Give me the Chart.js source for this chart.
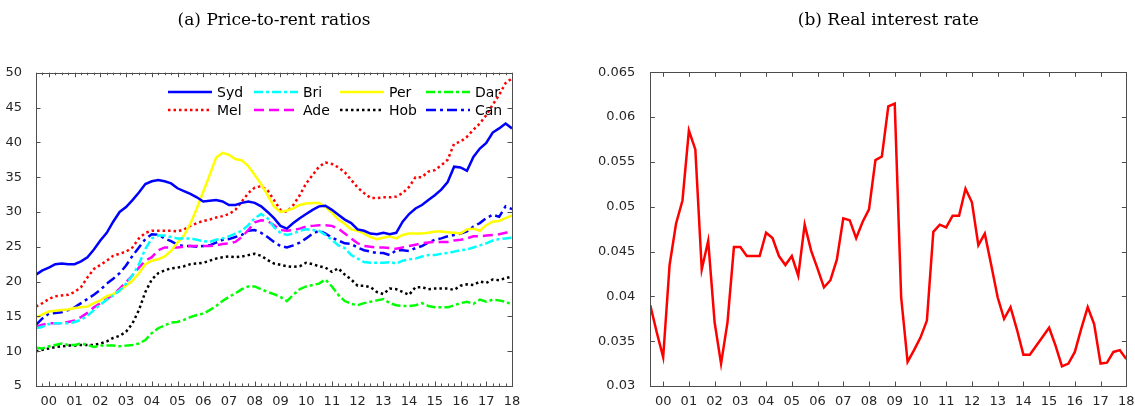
<!DOCTYPE html>
<html>
<head>
<meta charset="utf-8">
<script src="https://cdn.jsdelivr.net/npm/chart.js@4.4.1/dist/chart.umd.min.js"></script>
<style>
  html, body { margin: 0; padding: 0; background: #fff; }
  #wrap { position: relative; width: 1135px; height: 406px; overflow: hidden; }
  .panel { position: absolute; top: 0; height: 406px; }
  #p1 { left: 0; width: 560px; }
  #p2 { left: 560px; width: 575px; }
</style>
</head>
<body>
<div id="wrap">
  <div class="panel" id="p1"><canvas id="ratios"></canvas></div>
  <div class="panel" id="p2"><canvas id="rate"></canvas></div>
</div>
<script>
// quarterly observations, 1999Q3 .. 2018Q1
const QUARTERS = Array.from({length: 75}, (_, i) => 1999.5 + i / 4);
const YEARS = [2000,2001,2002,2003,2004,2005,2006,2007,2008,2009,2010,2011,2012,2013,2014,2015,2016,2017,2018];
const YEAR_LABELS = ['00','01','02','03','04','05','06','07','08','09','10','11','12','13','14','15','16','17','18'];
const RATIO_TICKS = [5,10,15,20,25,30,35,40,45,50];
const RATE_TICKS = [0.03,0.035,0.04,0.045,0.05,0.055,0.06,0.065];

// price-to-rent ratios by city
const syd = [21.0,21.6,22.0,22.5,22.6,22.5,22.5,22.9,23.5,24.6,25.9,27.0,28.6,30.0,30.7,31.7,32.8,34.0,34.4,34.6,34.4,34.1,33.4,33.0,
  32.6,32.1,31.5,31.6,31.7,31.5,31.0,31.0,31.3,31.5,31.3,30.8,30.0,29.1,28.0,27.6,28.4,29.1,29.7,30.3,30.8,30.9,30.3,29.6,
  28.9,28.4,27.5,27.3,26.9,26.8,27.0,26.8,27.0,28.6,29.7,30.5,31.0,31.7,32.4,33.2,34.3,36.5,36.4,35.9,37.9,39.1,39.9,41.4,42.0,42.7,42.0];
const mel = [16.4,16.9,17.5,17.9,18.0,18.1,18.5,19.2,20.6,21.8,22.4,23.0,23.7,24.0,24.3,24.9,26.2,27.0,27.3,27.3,27.3,27.3,27.2,27.5,
  28.0,28.4,28.7,28.9,29.2,29.4,29.7,30.3,31.5,32.7,33.5,33.7,33.1,31.7,30.3,30.0,31.0,32.4,34.1,35.3,36.5,37.1,36.9,36.4,
  35.7,34.6,33.5,32.7,32.0,32.0,32.1,32.1,32.2,32.7,33.6,35.0,35.0,35.8,36.0,36.7,37.5,39.8,40.1,40.8,41.8,42.7,43.9,45.4,46.8,48.5,49.2];
const bri = [13.3,13.5,13.9,14.0,14.0,14.0,14.2,14.5,15.1,15.9,16.7,17.4,18.0,18.7,19.7,20.9,22.5,24.7,26.2,26.6,26.6,26.4,26.2,26.2,
  26.2,26.0,25.8,25.7,26.0,26.2,26.5,26.9,27.3,28.1,29.1,29.7,29.1,27.8,27.0,26.7,26.9,27.3,27.5,27.4,27.3,26.7,26.0,25.2,
  24.8,23.8,23.3,22.8,22.7,22.7,22.7,22.8,22.6,23.0,23.2,23.3,23.6,23.8,23.8,24.0,24.1,24.3,24.5,24.6,24.9,25.2,25.5,25.9,26.1,26.2,26.3];
const ade = [13.5,13.8,14.0,14.0,14.0,14.2,14.4,14.9,15.5,16.3,16.9,17.5,18.1,19.0,19.9,20.9,22.0,23.0,23.5,24.5,24.9,24.9,24.9,25.0,
  25.1,25.1,25.1,25.1,25.2,25.4,25.5,25.7,26.4,27.4,28.5,28.8,28.7,28.1,27.4,27.3,27.4,27.6,27.9,28.0,28.1,28.1,28.0,27.6,
  26.9,26.2,25.5,25.1,25.0,24.9,24.9,24.8,24.7,24.9,25.1,25.3,25.5,25.6,25.7,25.7,25.7,25.9,26.0,26.2,26.5,26.5,26.6,26.7,26.8,27.0,27.3];
const per = [14.8,15.3,15.7,15.8,15.9,16.0,16.2,16.3,16.4,16.9,17.3,17.9,18.2,18.7,19.4,20.1,21.2,22.5,23.0,23.2,23.6,24.4,25.6,26.6,
  28.3,30.5,32.9,35.3,37.8,38.5,38.2,37.6,37.4,36.6,35.3,34.0,32.4,30.8,30.0,30.2,30.5,31.0,31.2,31.3,31.3,30.7,29.9,28.9,
  28.3,27.5,27.3,26.9,26.4,26.1,26.3,26.5,26.2,26.7,26.9,26.9,26.9,27.0,27.2,27.2,27.1,27.0,26.9,27.5,27.6,27.3,28.1,28.6,28.7,29.1,29.5];
const hob = [10.0,10.2,10.4,10.6,10.7,10.8,10.8,10.9,10.9,10.9,11.1,11.4,11.9,12.2,12.8,14.0,15.9,18.5,20.3,21.2,21.6,21.9,22.0,22.2,
  22.5,22.6,22.7,23.0,23.3,23.5,23.6,23.5,23.6,23.8,24.0,23.7,23.1,22.6,22.4,22.2,22.1,22.2,22.7,22.5,22.2,22.0,21.4,21.9,
  21.0,20.3,19.4,19.4,19.2,18.5,18.2,19.0,18.9,18.5,18.1,19.2,19.2,18.9,19.0,19.0,19.0,18.8,19.4,19.6,19.5,20.0,19.8,20.3,20.2,20.5,20.7];
const dar = [10.5,10.4,10.7,10.9,11.1,10.9,10.9,11.1,10.9,10.6,10.8,10.8,10.8,10.7,10.8,10.9,11.1,11.6,12.6,13.3,13.7,14.1,14.2,14.5,
  14.9,15.2,15.4,15.9,16.5,17.2,17.8,18.3,18.9,19.3,19.3,18.9,18.5,18.2,17.8,17.2,18.1,18.9,19.3,19.5,19.7,20.3,19.3,18.1,
  17.2,16.8,16.6,16.9,17.1,17.3,17.5,16.9,16.6,16.5,16.5,16.6,16.9,16.5,16.3,16.3,16.3,16.6,16.9,17.1,16.8,17.4,17.1,17.4,17.3,17.1,16.7];
const can = [13.8,14.7,15.4,15.5,15.6,15.9,16.3,16.9,17.5,18.1,18.8,19.7,20.4,21.2,22.3,23.7,24.9,26.1,26.8,26.7,26.2,25.8,25.3,25.1,
  25.1,25.0,25.1,25.2,25.6,26.0,26.1,26.4,26.7,27.3,27.4,27.0,26.4,25.7,25.1,24.9,25.2,25.6,26.2,26.9,27.3,26.9,26.3,25.9,
  25.5,25.4,24.9,24.5,24.3,24.1,24.1,23.8,24.5,24.5,24.4,24.8,25.1,25.6,26.0,26.2,26.5,26.7,26.9,27.2,27.9,28.4,29.1,29.6,29.3,30.8,30.4];

// real interest rate
const realRate = [0.0390,0.0360,0.0332,0.0435,0.0481,0.0507,0.0585,0.0564,0.0430,0.0462,0.0371,0.0325,0.0371,0.0455,0.0455,0.0445,
  0.0445,0.0445,0.0471,0.0465,0.0445,0.0435,0.0445,0.0423,0.0480,0.0451,0.0431,0.0410,0.0418,0.0441,0.0487,0.0485,0.0465,0.0483,0.0497,
  0.0552,0.0556,0.0612,0.0615,0.0399,0.0327,0.0340,0.0354,0.0373,0.0472,0.0480,0.0477,0.0490,0.0490,0.0520,0.0505,0.0457,0.0470,
  0.0435,0.0399,0.0375,0.0388,0.0363,0.0335,0.0335,0.0345,0.0355,0.0365,0.0345,0.0322,0.0325,0.0338,0.0364,0.0388,0.0369,0.0325,
  0.0326,0.0338,0.0340,0.0330];

const AXIS = '#4d4d4d';
const TEXT = '#262626';
const pts = arr => QUARTERS.map((q, i) => ({x: q, y: arr[i]}));

function line(label, arr, color, dash){
  return { label, data: pts(arr), borderColor: color, backgroundColor: color, borderWidth: 2.5,
           borderDash: dash, pointRadius: 0, tension: 0, fill: false };
}

// box round the plot area with inward ticks, MATLAB style
const framePlugin = {
  id: 'frame',
  afterDatasetsDraw(chart, args, o){
    const {ctx, chartArea: a} = chart;
    const x = chart.scales.x, y = chart.scales.y;
    ctx.save();
    ctx.strokeStyle = AXIS; ctx.lineWidth = 1;
    ctx.strokeRect(Math.round(a.left) + 0.5, Math.round(a.top) + 0.5,
                   Math.round(a.right - a.left), Math.round(a.bottom - a.top));
    ctx.beginPath();
    const vt = (v, len) => {
      const px = Math.round(x.getPixelForValue(v)) + 0.5;
      ctx.moveTo(px, a.bottom); ctx.lineTo(px, a.bottom - len);
      ctx.moveTo(px, a.top); ctx.lineTo(px, a.top + len);
    };
    (o.xMajor || []).forEach(v => vt(v, 4.5));
    (o.xMinor || []).forEach(v => vt(v, 2.5));
    (o.yMajor || []).forEach(v => {
      const py = Math.round(y.getPixelForValue(v)) + 0.5;
      ctx.moveTo(a.left, py); ctx.lineTo(a.left + 4.5, py);
      ctx.moveTo(a.right, py); ctx.lineTo(a.right - 4.5, py);
    });
    ctx.stroke();
    ctx.restore();
  }
};

const titlePlugin = {
  id: 'panelTitle',
  afterDraw(chart, args, o){
    const {ctx, chartArea: a} = chart;
    ctx.save();
    ctx.font = '17px "DejaVu Serif"';
    ctx.fillStyle = '#000';
    ctx.textAlign = 'center'; ctx.textBaseline = 'alphabetic';
    ctx.fillText(o.text, (a.left + a.right) / 2, 25);
    ctx.restore();
  }
};

// two-row legend inside the plot, four columns
const legendPlugin = {
  id: 'boxLegend',
  afterDraw(chart, args, o){
    if(!o.cols) return;
    const ctx = chart.ctx;
    ctx.save();
    ctx.font = '14px "DejaVu Sans"';
    ctx.fillStyle = '#000';
    ctx.textBaseline = 'middle';
    chart.data.datasets.forEach((ds, i) => {
      const x0 = o.cols[i % 4], y0 = o.rows[Math.floor(i / 4)];
      ctx.strokeStyle = ds.borderColor; ctx.lineWidth = ds.borderWidth;
      ctx.setLineDash(ds.borderDash || []);
      ctx.beginPath(); ctx.moveTo(x0, y0); ctx.lineTo(x0 + 44, y0); ctx.stroke();
      ctx.setLineDash([]);
      ctx.fillText(ds.label, x0 + 49, y0 + 1);
    });
    ctx.restore();
  }
};

const yearTicks = scale => { scale.ticks = YEARS.map(v => ({value: v})); };
const tickFont = {family: 'DejaVu Sans', size: 13};

function xScale(){
  return {
    type: 'linear', min: 1999.5, max: 2018,
    grid: {display: false}, border: {display: false},
    afterBuildTicks: yearTicks,
    afterFit: s => { s.height = 20; },
    ticks: { autoSkip: false, maxRotation: 0, padding: 0, color: TEXT, font: tickFont,
             callback: v => { const i = YEARS.indexOf(v); return i >= 0 ? YEAR_LABELS[i] : ''; } }
  };
}

const quarterMinor = QUARTERS.filter(q => !Number.isInteger(q));

new Chart(document.getElementById('ratios'), {
  type: 'line',
  data: { datasets: [
    line('Syd', syd, '#0000ff', []),
    line('Bri', bri, '#00ffff', [9, 3, 3, 3]),
    line('Per', per, '#ffff00', []),
    line('Dar', dar, '#00ff00', [9, 3, 3, 3]),
    line('Mel', mel, '#ff0000', [2.5, 3]),
    line('Ade', ade, '#ff00ff', [10, 5]),
    line('Hob', hob, '#000000', [2.5, 3]),
    line('Can', can, '#0000ff', [10, 4, 3, 4])
  ]},
  options: {
    responsive: true, maintainAspectRatio: false, animation: false,
    layout: { padding: {left: 0, right: 48, top: 72.7, bottom: 0} },
    scales: {
      x: xScale(),
      y: { min: 5, max: 50,
           grid: {display: false}, border: {display: false},
           afterBuildTicks: s => { s.ticks = RATIO_TICKS.map(v => ({value: v})); },
           afterFit: s => { s.width = 36; },
           ticks: { padding: 6, color: TEXT, font: tickFont } }
    },
    plugins: {
      legend: {display: false}, tooltip: {enabled: false},
      frame: { xMajor: YEARS, xMinor: quarterMinor, yMajor: RATIO_TICKS },
      panelTitle: { text: '(a) Price-to-rent ratios' },
      boxLegend: { cols: [168, 254, 340, 426], rows: [92, 110] }
    }
  },
  plugins: [framePlugin, titlePlugin, legendPlugin]
});

new Chart(document.getElementById('rate'), {
  type: 'line',
  data: { datasets: [ line('Real interest rate', realRate, '#ff0000', []) ] },
  options: {
    responsive: true, maintainAspectRatio: false, animation: false,
    layout: { padding: {left: 0, right: 8.7, top: 72.3, bottom: 0} },
    scales: {
      x: xScale(),
      y: { min: 0.03, max: 0.065,
           grid: {display: false}, border: {display: false},
           afterBuildTicks: s => { s.ticks = RATE_TICKS.map(v => ({value: v})); },
           afterFit: s => { s.width = 90.3; },
           ticks: { padding: 7, color: TEXT, font: tickFont, callback: v => String(v) } }
    },
    plugins: {
      legend: {display: false}, tooltip: {enabled: false},
      frame: { xMajor: YEARS, yMajor: RATE_TICKS },
      panelTitle: { text: '(b) Real interest rate' }
    }
  },
  plugins: [framePlugin, titlePlugin]
});
</script>
</body>
</html>
